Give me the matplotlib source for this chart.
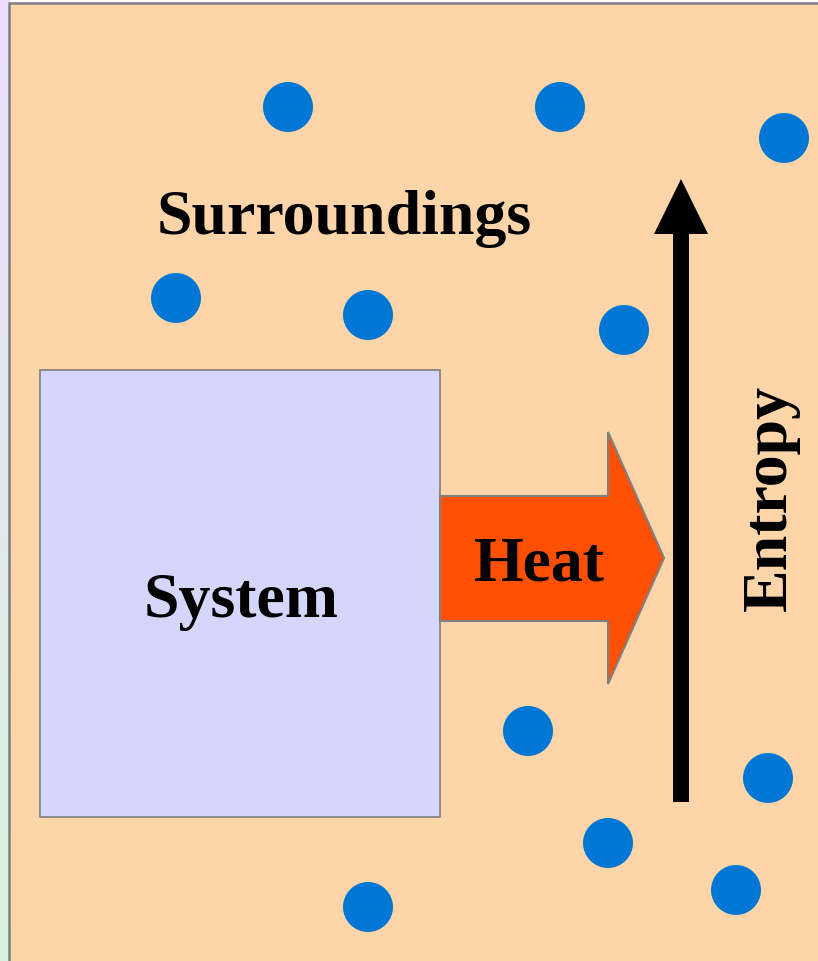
import numpy as np
import matplotlib.pyplot as plt
from matplotlib.patches import Rectangle, Polygon, Circle

# particle positions (pixel coords, y down)
DOT_X = [288, 560, 784, 176, 368, 624, 528, 768, 608, 736, 368]
DOT_Y = [108, 108, 139, 299, 316, 331, 732, 779, 844, 891, 908]

LABELS = ["Surroundings", "System", "Heat", "Entropy"]

W, H = 818, 962
fig = plt.figure(figsize=(W / 100, H / 100), dpi=100)
ax = fig.add_axes([0, 0, 1, 1])
ax.set_xlim(0, W)
ax.set_ylim(H, 0)
ax.axis("off")

# left strip gradient lavender -> light green
grad = np.linspace(0, 1, 256).reshape(-1, 1)
top = np.array([0.93, 0.86, 1.0])
bot = np.array([0.84, 0.96, 0.86])
img = top[None, None, :] * (1 - grad[..., None]) + bot[None, None, :] * grad[..., None]
ax.imshow(img, extent=[0, 10, H, 0], aspect="auto", zorder=0)

# surroundings
ax.add_patch(Rectangle((8.5, 3.5), W, H, facecolor="#FED5A9", edgecolor="#7F7F7F", lw=1.8, zorder=1))

# system box
ax.add_patch(Rectangle((40, 371), 400, 447, facecolor="#D5D6FC", edgecolor="#7F7F7F", lw=1.2, zorder=2))

# heat arrow
heat = [(440, 497), (608, 497), (608, 433), (664, 559), (608, 685), (608, 622), (440, 622)]
ax.add_patch(Polygon(heat, closed=True, facecolor="#FF4F00", edgecolor="#7F7F7F", lw=1.5, zorder=2))

# entropy arrow
ax.add_patch(Polygon([(673, 803), (689, 803), (689, 235), (708, 235), (681, 180),
                      (654, 235), (673, 235)], closed=True, facecolor="black", edgecolor="none", zorder=3))

for x, y in zip(DOT_X, DOT_Y):
    ax.add_patch(Circle((x, y), 25, facecolor="#0077D4", edgecolor="none", zorder=3))

font = dict(family="Liberation Serif", weight="bold", color="black", fontsize=46)
ax.text(344, 219, LABELS[0], ha="center", va="center", zorder=4, **font)
ax.text(241, 602, LABELS[1], ha="center", va="center", zorder=4, **font)
ax.text(539, 566, LABELS[2], ha="center", va="center", zorder=4, **font)
ax.text(771, 498, LABELS[3], ha="center", va="center", rotation=90, zorder=4, **font)

fig.savefig("out.png", dpi=100)
